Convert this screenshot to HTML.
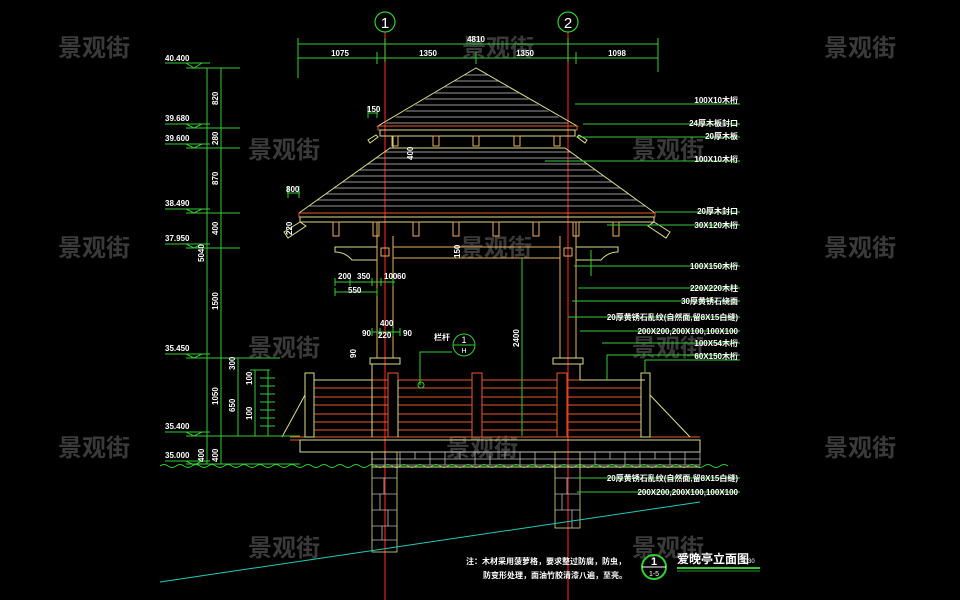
<!DOCTYPE html>
<html><head><meta charset="utf-8"><style>
html,body{margin:0;padding:0;background:#000;}
svg{display:block;}
text{font-family:"Liberation Sans","Noto Sans CJK SC",sans-serif;}
.w{fill:#fff;font-size:8px;font-weight:bold;}
.wm{fill:#3a3a3a;font-size:24px;font-weight:bold;font-family:"Noto Sans CJK SC","WenQuanYi Zen Hei",sans-serif;}
</style></head><body>
<svg width="960" height="600" viewBox="0 0 960 600" xmlns="http://www.w3.org/2000/svg">
<rect width="960" height="600" fill="#000"/>
<g class="wm">
<text x="58" y="56">景观街</text><text x="462" y="56">景观街</text><text x="824" y="56">景观街</text>
<text x="248" y="158">景观街</text><text x="632" y="158">景观街</text>
<text x="58" y="256">景观街</text><text x="460" y="256">景观街</text><text x="824" y="256">景观街</text>
<text x="248" y="356">景观街</text><text x="632" y="356">景观街</text>
<text x="58" y="456">景观街</text><text x="446" y="456">景观街</text><text x="824" y="456">景观街</text>
<text x="248" y="556">景观街</text><text x="632" y="556">景观街</text>
</g>

<g stroke="#e02020" stroke-width="1.2">
<line x1="385" y1="32" x2="385" y2="600"/><line x1="568" y1="32" x2="568" y2="600"/>
</g>
<g stroke="#3c3" fill="none" stroke-width="1.2">
<circle cx="385" cy="22" r="10"/><circle cx="568" cy="22" r="10"/>
</g>
<text x="385" y="28" fill="#fff" font-size="15" text-anchor="middle">1</text>
<text x="568" y="28" fill="#fff" font-size="15" text-anchor="middle">2</text>

<g stroke="#3c3" stroke-width="1">
<line x1="298" y1="44" x2="658" y2="44"/><line x1="298" y1="58" x2="658" y2="58"/>
<line x1="298" y1="38" x2="298" y2="78"/><line x1="385" y1="38" x2="385" y2="62"/>
<line x1="568" y1="38" x2="568" y2="62"/><line x1="658" y1="38" x2="658" y2="72"/>
<line x1="377" y1="52" x2="377" y2="64"/><line x1="576" y1="52" x2="576" y2="64"/>
<line x1="476" y1="52" x2="476" y2="64"/>
</g>
<g class="w" text-anchor="middle"><text x="340" y="56">1075</text><text x="428" y="56">1350</text><text x="525" y="56">1350</text><text x="617" y="56">1098</text><text x="476" y="42">4810</text></g>

<defs>
<clipPath id="r1"><polygon points="476,68 378,128 577,128"/></clipPath>
<clipPath id="r2"><polygon points="390,148 565,148 655,213 299,213"/></clipPath>
</defs>
<g clip-path="url(#r1)" stroke="#999" stroke-width="1">
<line x1="370" y1="75" x2="590" y2="75"/><line x1="370" y1="81" x2="590" y2="81"/><line x1="370" y1="87" x2="590" y2="87"/><line x1="370" y1="93" x2="590" y2="93"/><line x1="370" y1="99" x2="590" y2="99"/><line x1="370" y1="105" x2="590" y2="105"/><line x1="370" y1="111" x2="590" y2="111"/><line x1="370" y1="117" x2="590" y2="117"/><line x1="370" y1="123" x2="590" y2="123"/>
</g>
<polygon points="476,68 378,126 577,126" fill="none" stroke="#dd8" stroke-width="1"/>
<rect x="378" y="126" width="199" height="4" fill="none" stroke="#e85a30"/>
<rect x="380" y="130" width="195" height="6" fill="none" stroke="#dd8"/>
<g fill="none" stroke="#e8b060" stroke-width="1">
<rect x="392" y="136" width="6" height="10"/><rect x="433" y="136" width="6" height="10"/><rect x="473" y="136" width="6" height="10"/><rect x="514" y="136" width="6" height="10"/><rect x="554" y="136" width="6" height="10"/>
</g>
<polygon points="378,137 370,143 368,140 376,135" fill="none" stroke="#dd8"/>
<polygon points="577,137 585,143 587,140 579,135" fill="none" stroke="#dd8"/>
<line x1="393" y1="136" x2="393" y2="148" stroke="#dd8"/>

<g clip-path="url(#r2)" stroke="#999" stroke-width="1">
<line x1="290" y1="152" x2="670" y2="152"/><line x1="290" y1="158" x2="670" y2="158"/><line x1="290" y1="164" x2="670" y2="164"/><line x1="290" y1="170" x2="670" y2="170"/><line x1="290" y1="176" x2="670" y2="176"/><line x1="290" y1="182" x2="670" y2="182"/><line x1="290" y1="188" x2="670" y2="188"/><line x1="290" y1="194" x2="670" y2="194"/><line x1="290" y1="200" x2="670" y2="200"/><line x1="290" y1="206" x2="670" y2="206"/>
</g>
<polyline points="299,213 390,148 565,148 655,213" fill="none" stroke="#dd8"/>
<rect x="299" y="213" width="356" height="4" fill="none" stroke="#e85a30"/>
<rect x="300" y="217" width="354" height="5" fill="none" stroke="#dd8"/>
<g fill="none" stroke="#e8b060">
<rect x="333" y="222" width="6" height="14"/><rect x="373" y="222" width="6" height="14"/><rect x="413" y="222" width="6" height="14"/><rect x="453" y="222" width="6" height="14"/><rect x="493" y="222" width="6" height="14"/><rect x="533" y="222" width="6" height="14"/><rect x="573" y="222" width="6" height="14"/><rect x="613" y="222" width="6" height="14"/>
</g>
<polygon points="300,222 284,232 288,238 306,226" fill="none" stroke="#dd8"/>
<polygon points="654,222 670,232 666,238 648,226" fill="none" stroke="#dd8"/>
<rect x="393" y="247" width="167" height="11" fill="none" stroke="#e8b060"/>
<path d="M335,247 H377 V260 H352 Q345,252 335,252 Z" fill="none" stroke="#dd8"/>
<path d="M618,247 H576 V260 H601 Q608,252 618,252 Z" fill="none" stroke="#dd8"/>
<rect x="381" y="248" width="8" height="8" fill="none" stroke="#e8b060"/>
<rect x="564" y="248" width="8" height="8" fill="none" stroke="#e8b060"/>
<g stroke="#e8b060" fill="none">
<line x1="377" y1="222" x2="377" y2="358"/><line x1="393" y1="236" x2="393" y2="358"/>
<line x1="560" y1="236" x2="560" y2="358"/><line x1="576" y1="222" x2="576" y2="358"/>
</g>
<g stroke="#dd8" fill="none">
<rect x="370" y="358" width="30" height="6"/><rect x="553" y="358" width="30" height="6"/>
</g>

<g stroke="#e85a30" stroke-width="1">
<line x1="313" y1="380" x2="645" y2="380"/><line x1="313" y1="388" x2="645" y2="388"/><line x1="313" y1="397" x2="645" y2="397"/><line x1="313" y1="405" x2="645" y2="405"/><line x1="313" y1="414" x2="645" y2="414"/><line x1="313" y1="422" x2="645" y2="422"/><line x1="313" y1="430" x2="645" y2="430"/>
<line x1="290" y1="437" x2="700" y2="437"/><line x1="290" y1="440" x2="700" y2="440"/>
</g>
<g stroke="#e85a30" fill="#000">
<rect x="305" y="373" width="9" height="64" stroke="#dd8"/><rect x="388" y="373" width="10" height="64"/>
<rect x="472" y="373" width="10" height="64"/><rect x="557" y="373" width="10" height="64"/><rect x="641" y="373" width="9" height="64" stroke="#dd8"/>
</g>
<g stroke="#dd8" fill="none">
<line x1="314" y1="380" x2="372" y2="380"/><line x1="372" y1="364" x2="372" y2="380"/>
<line x1="580" y1="380" x2="645" y2="380"/><line x1="580" y1="364" x2="580" y2="380"/>
<rect x="300" y="440" width="400" height="12"/>
<line x1="305" y1="395" x2="282" y2="437"/><line x1="650" y1="395" x2="690" y2="437"/>
<line x1="372" y1="364" x2="372" y2="437"/><line x1="398" y1="380" x2="398" y2="437"/>
</g>
<g stroke="#bbb" stroke-width="0.8" fill="none">
<rect x="372" y="452" width="328" height="13"/>
<path d="M385,452V465M400,452V465M415,452V459M430,452V465M445,452V465M460,452V459M475,452V465M490,452V465M505,452V459M520,452V465M535,452V465M595,452V465M610,452V459M625,452V465M640,452V465M655,452V459M670,452V465M685,452V465M372,459H700"/>
</g>
<path d="M160,466 q4,-3 8,0 t8,0 t8,0 t8,0 t8,0 t8,0 t8,0 t8,0 t8,0 t8,0 t8,0 t8,0 t8,0 t8,0 t8,0 t8,0 t8,0 t8,0 t8,0 t8,0 t8,0 t8,0 t8,0 t8,0 t8,0 t8,0 t8,0 t8,0 t8,0 t8,0 t8,0 t8,0 t8,0 t8,0 t8,0 t8,0 t8,0 t8,0 t8,0 t8,0 t8,0 t8,0 t8,0 t8,0 t8,0 t8,0 t8,0 t8,0 t8,0 t8,0 t8,0 t8,0 t8,0 t8,0 t8,0 t8,0 t8,0 t8,0 t8,0 t8,0 t8,0 t8,0 t8,0 t8,0 t8,0 t8,0 t8,0 t8,0 t8,0 t8,0 t8,0" fill="none" stroke="#3c3" stroke-width="0.9"/>
<line x1="372" y1="467" x2="700" y2="467" stroke="#dd8"/>
<g stroke="#bbb" fill="none" stroke-width="0.8">
<rect x="372" y="452" width="25" height="100" stroke="#dd8"/>
<rect x="555" y="452" width="25" height="76" stroke="#dd8"/>
<path d="M372,478H397M372,494H397M372,510H397M372,526H397M372,540H397M384,478V494M380,494V510M388,510V526M382,526V540"/>
<path d="M555,478H580M555,494H580M555,510H580M567,478V494M562,494V510M572,510V528"/>
</g>
<line x1="160" y1="582" x2="700" y2="502" stroke="#2cb" stroke-width="1"/>

<g stroke="#3c3" stroke-width="1" fill="none">
<line x1="207" y1="68" x2="207" y2="464"/><line x1="221" y1="68" x2="221" y2="464"/>
<path d="M165,63H210M186,68H240M165,124H210M186,128H240M165,144H210M186,148H240M165,209H210M186,213H240M165,244H210M186,248H240M165,354H210M186,358H280M165,432H210M186,436H300M165,461H210M186,464H300"/>
<path d="M186,63l8,5l8,-5M186,124l8,4l8,-4M186,144l8,4l8,-4M186,209l8,4l8,-4M186,244l8,4l8,-4M186,354l8,4l8,-4M186,432l8,4l8,-4M186,461l8,4l8,-4"/>
<line x1="238" y1="358" x2="238" y2="436"/><line x1="255" y1="370" x2="255" y2="436"/>
<path d="M250,370H270M260,378H275M260,386H275M260,394H275M260,402H275M260,410H275M260,418H275M260,426H275"/>
<line x1="268" y1="370" x2="268" y2="436"/>
</g>
<g class="w" font-size="7">
<text x="165" y="61">40.400</text><text x="165" y="121">39.680</text><text x="165" y="141">39.600</text><text x="165" y="206">38.490</text><text x="165" y="241">37.950</text><text x="165" y="351">35.450</text><text x="165" y="429">35.400</text><text x="165" y="458">35.000</text>
</g>
<g class="w" font-size="7">
<text transform="translate(218,105) rotate(-90)">820</text>
<text transform="translate(218,145) rotate(-90)">280</text>
<text transform="translate(218,185) rotate(-90)">870</text>
<text transform="translate(218,235) rotate(-90)">400</text>
<text transform="translate(204,262) rotate(-90)">5040</text>
<text transform="translate(218,310) rotate(-90)">1500</text>
<text transform="translate(218,405) rotate(-90)">1050</text>
<text transform="translate(204,462) rotate(-90)">400</text>
<text transform="translate(218,462) rotate(-90)">400</text>
<text transform="translate(235,370) rotate(-90)">300</text>
<text transform="translate(235,412) rotate(-90)">650</text>
<text transform="translate(252,420) rotate(-90)">100</text>
<text transform="translate(252,385) rotate(-90)">100</text>
</g>
<g stroke="#3c3" fill="none" stroke-width="1">
<path d="M368,113H378M368,106V118M377,106V118"/>
<path d="M287,193H300M288,186V198M299,186V198"/>
<path d="M335,282H395M335,278V286M350,278V286M372,278V286M381,278V286M393,278V286M335,292H377M335,288V296M377,288V296"/>
<path d="M372,332H400M372,328V336M380,328V336M393,328V336M400,328V336"/>
<path d="M420,385V352H452M522,436V258M591,276V250M574,266H740M578,288H740M572,301H740M568,317H740M580,331H740M602,343H740M607,380V355H740M645,372V360H740"/>
<path d="M577,478H740M577,492H740M575,104H740M583,124H740M578,137H740M545,161H740M655,212H740M607,225H740M600,266H740"/>
</g>
<circle cx="421" cy="385" r="3" fill="none" stroke="#3c3"/>
<circle cx="464" cy="345" r="11" fill="none" stroke="#3c3"/>
<line x1="453" y1="345" x2="475" y2="345" stroke="#3c3"/>
<text x="464" y="343" fill="#fff" font-size="9" text-anchor="middle">1</text>
<text x="464" y="353" fill="#fff" font-size="7" text-anchor="middle">H</text>
<text x="434" y="340" class="w">栏杆</text>
<g class="w" font-size="7">
<text x="367" y="112">150</text><text x="286" y="192">800</text><text x="338" y="279">200</text><text x="357" y="279">350</text><text x="384" y="279">100</text><text x="397" y="279">60</text><text x="348" y="293">550</text>
<text x="380" y="326">400</text><text x="378" y="338">220</text><text x="362" y="336">90</text><text x="403" y="336">90</text>
<text transform="translate(413,160) rotate(-90)">400</text><text transform="translate(519,347) rotate(-90)">2400</text><text transform="translate(460,258) rotate(-90)">150</text><text transform="translate(292,235) rotate(-90)">220</text><text transform="translate(356,358) rotate(-90)">90</text>
</g>
<g class="w" text-anchor="end" font-size="8">
<text x="738" y="103">100X10木桁</text>
<text x="738" y="126">24厚木板封口</text>
<text x="738" y="139">20厚木板</text>
<text x="738" y="162">100X10木桁</text>
<text x="738" y="214">20厚木封口</text>
<text x="738" y="228">30X120木桁</text>
<text x="738" y="269">100X150木桁</text>
<text x="738" y="291">220X220木柱</text>
<text x="738" y="304">30厚黄锈石绕面</text>
<text x="738" y="320">20厚黄锈石乱纹(自然面,留8X15白缝)</text>
<text x="738" y="334">200X200,200X100,100X100</text>
<text x="738" y="346">100X54木桁</text>
<text x="738" y="359">60X150木桁</text>
<text x="738" y="481">20厚黄锈石乱纹(自然面,留8X15白缝)</text>
<text x="738" y="495">200X200,200X100,100X100</text>
</g>
<circle cx="654" cy="567" r="12" fill="none" stroke="#3c3" stroke-width="2"/>
<line x1="642" y1="567" x2="666" y2="567" stroke="#fff"/>
<text x="654" y="565" fill="#fff" font-size="11" font-weight="bold" text-anchor="middle">1</text>
<text x="654" y="576" fill="#fff" font-size="7" text-anchor="middle">1-5</text>
<text x="677" y="563" fill="#fff" font-size="12" font-weight="bold" font-family="Noto Sans CJK SC,sans-serif">爱晚亭立面图</text>
<text x="743" y="563" fill="#fff" font-size="6">1:30</text>
<line x1="677" y1="568" x2="760" y2="568" stroke="#3c3" stroke-width="2"/>
<line x1="677" y1="571" x2="760" y2="571" stroke="#3c3" stroke-width="0.8"/>
<text x="466" y="564" class="w">注：木材采用菠萝格，要求整过防腐，防虫，</text>
<text x="483" y="578" class="w">防变形处理，面油竹胶清漆八遍，至亮。</text>
</svg>
</body></html>
